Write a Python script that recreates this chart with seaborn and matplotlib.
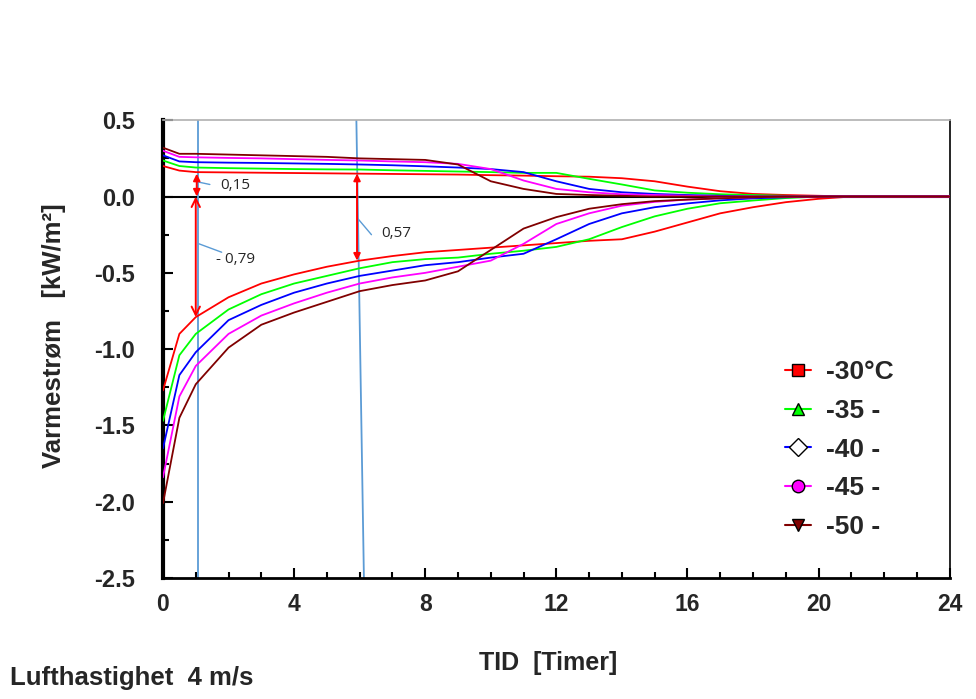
import numpy as np
import pandas as pd
import seaborn as sns
import matplotlib
matplotlib.use("Agg")
import matplotlib.pyplot as plt
from matplotlib.lines import Line2D
from matplotlib.ticker import MultipleLocator

# time axis [hours]
hours = [0, 0.5, 1, 2, 3, 4, 5, 6, 7, 8, 9, 10, 11, 12, 13, 14, 15, 16,
         17, 18, 19, 20, 21, 22, 23, 24]

temps = ['-30°C', '-35 -', '-40 -', '-45 -', '-50 -']
colors = ['#ff0000', '#00ff00', '#0000ff', '#ff00ff', '#800000']
markers = ['s', '^', 'D', 'o', 'v']
marker_fill = ['#ff0000', '#00ff00', '#ffffff', '#ff00ff', '#800000']

# upper branch (positive heat flow)
up_30 = [0.20, 0.17, 0.16, 0.158, 0.156, 0.154, 0.152, 0.15, 0.148, 0.146, 0.144, 0.14, 0.137,
         0.133, 0.13, 0.12, 0.10, 0.065, 0.035, 0.017, 0.01, 0.005, 0, 0, 0, 0]
up_35 = [0.236, 0.20, 0.19, 0.186, 0.183, 0.18, 0.178, 0.177, 0.172, 0.168, 0.164, 0.16, 0.155,
         0.155, 0.116, 0.079, 0.04, 0.025, 0.015, 0.01, 0.005, 0, 0, 0, 0, 0]
up_40 = [0.27, 0.23, 0.225, 0.222, 0.22, 0.217, 0.214, 0.21, 0.205, 0.198, 0.19, 0.18, 0.16,
         0.10, 0.05, 0.028, 0.017, 0.01, 0.005, 0, 0, 0, 0, 0, 0, 0]
up_45 = [0.30, 0.26, 0.257, 0.253, 0.25, 0.245, 0.24, 0.236, 0.23, 0.225, 0.214, 0.18, 0.105,
         0.05, 0.028, 0.015, 0.01, 0.005, 0, 0, 0, 0, 0, 0, 0, 0]
up_50 = [0.32, 0.28, 0.28, 0.275, 0.27, 0.265, 0.26, 0.25, 0.245, 0.24, 0.21, 0.10, 0.05,
         0.017, 0.01, 0.005, 0, 0, 0, 0, 0, 0, 0, 0, 0, 0]

# lower branch (negative heat flow)
low_30 = [-1.27, -0.90, -0.79, -0.66, -0.57, -0.51, -0.46, -0.42, -0.39, -0.365, -0.35, -0.335,
          -0.32, -0.305, -0.29, -0.28, -0.23, -0.17, -0.11, -0.07, -0.037, -0.015, 0, 0, 0, 0]
low_35 = [-1.47, -1.04, -0.90, -0.74, -0.64, -0.57, -0.52, -0.47, -0.43, -0.41, -0.40, -0.375,
          -0.355, -0.33, -0.28, -0.20, -0.13, -0.08, -0.044, -0.026, -0.01, 0, 0, 0, 0, 0]
low_40 = [-1.65, -1.17, -1.02, -0.81, -0.71, -0.63, -0.57, -0.52, -0.485, -0.45, -0.43, -0.40,
          -0.375, -0.28, -0.18, -0.11, -0.07, -0.045, -0.025, -0.012, -0.005, 0, 0, 0, 0, 0]
low_45 = [-1.84, -1.31, -1.11, -0.90, -0.78, -0.70, -0.63, -0.57, -0.53, -0.50, -0.46, -0.42,
          -0.31, -0.18, -0.11, -0.06, -0.035, -0.02, -0.01, -0.005, 0, 0, 0, 0, 0, 0]
low_50 = [-2.01, -1.45, -1.23, -0.99, -0.84, -0.76, -0.69, -0.62, -0.58, -0.55, -0.49, -0.35,
          -0.21, -0.135, -0.08, -0.05, -0.03, -0.02, -0.012, -0.005, 0, 0, 0, 0, 0, 0]

upper = [up_30, up_35, up_40, up_45, up_50]
lower = [low_30, low_35, low_40, low_45, low_50]

frames = []
for t, u, l in zip(temps, upper, lower):
    frames.append(pd.DataFrame({'hour': hours, 'flow': u, 'temp': t, 'branch': 'up'}))
    frames.append(pd.DataFrame({'hour': hours, 'flow': l, 'temp': t, 'branch': 'low'}))
df = pd.concat(frames, ignore_index=True)

sns.set_style('ticks')
plt.rcParams['font.family'] = ['Liberation Sans', 'DejaVu Sans']
narrow = ['Liberation Sans Narrow', 'Liberation Sans']
note_font = ['Open Sans', 'DejaVu Sans']

fig = plt.figure(figsize=(9.76, 6.99), dpi=100)
ax = fig.add_axes([0.167, 0.173, 0.806, 0.655])

ax.axhline(0, color='black', lw=1.5, zorder=1)

sns.lineplot(data=df, x='hour', y='flow', hue='temp', units='branch', estimator=None,
             palette=colors, hue_order=temps, lw=1.3, legend=False, ax=ax, zorder=3)

ax.set_xlim(0, 24)
ax.set_ylim(-2.5, 0.5)
ax.xaxis.set_major_locator(MultipleLocator(4))
ax.xaxis.set_minor_locator(MultipleLocator(1))
ax.yaxis.set_major_locator(MultipleLocator(0.5))
ax.yaxis.set_minor_locator(MultipleLocator(0.25))
ax.tick_params(which='major', direction='in', length=7, width=1.5, color='black')
ax.tick_params(which='minor', direction='in', length=4, width=1.5, color='black')
ax.tick_params(axis='x', which='major', pad=11)
ax.tick_params(axis='y', which='major', pad=20)
ax.set_yticks([0.5, 0.0, -0.5, -1.0, -1.5, -2.0, -2.5])
ax.set_yticklabels(['0.5', '0.0', '-0.5', '-1.0', '-1.5', '-2.0', '-2.5'],
                   fontsize=17, fontweight='bold')
ax.set_xticks([0, 4, 8, 12, 16, 20, 24])
ax.set_xticklabels(['0', '4', '8', '12', '16', '20', '24'], fontsize=16.5,
                   fontweight='bold', family=narrow)

ax.spines['left'].set_linewidth(3)
ax.spines['bottom'].set_linewidth(2)
ax.spines['right'].set_linewidth(1.2)
ax.spines['top'].set_linewidth(1.2)
ax.spines['top'].set_color('#b0b0b0')
for s in ['left', 'bottom', 'right']:
    ax.spines[s].set_color('black')

ax.set_xlabel('TID  [Timer]', fontsize=18, fontweight='bold', family=narrow)
ax.xaxis.set_label_coords(0.49, (578 - 651) / 458)
ax.set_ylabel('Varmestrøm   [kW/m²]', fontsize=18.5, fontweight='bold')
ax.yaxis.set_label_coords(-0.123, 0.53)

# reference lines and dimension arrows
guide = '#5b9bd5'
ax.plot([1.07, 1.07], [0.5, -2.5], color=guide, lw=1.3, zorder=2)
ax.plot([5.9, 6.13], [0.5, -2.5], color=guide, lw=1.3, zorder=2)

red_filled = dict(arrowstyle='<|-|>', color='red', lw=1.4, shrinkA=0, shrinkB=0,
                  mutation_scale=10)
red_open = dict(arrowstyle='<->', color='red', lw=1.4, shrinkA=0, shrinkB=0,
                mutation_scale=15)
ax.annotate('', xy=(1.03, 0.0), xytext=(1.03, 0.15), arrowprops=red_filled, zorder=4)
ax.annotate('', xy=(1.0, -0.79), xytext=(1.0, 0.0), arrowprops=red_open, zorder=4)
ax.annotate('', xy=(5.92, -0.42), xytext=(5.92, 0.15), arrowprops=red_filled, zorder=4)

ax.plot([1.1, 1.43], [0.094, 0.079], color=guide, lw=1)
ax.plot([1.1, 1.79], [-0.31, -0.365], color=guide, lw=1)
ax.plot([5.95, 6.36], [-0.146, -0.25], color=guide, lw=1)
ax.text(1.74, 0.075, '0,15', fontsize=11, family=note_font, va='center')
ax.text(1.63, -0.41, '- 0,79', fontsize=11, family=note_font, va='center')
ax.text(6.67, -0.24, '0,57', fontsize=11, family=note_font, va='center')

handles = [Line2D([], [], color=c, lw=1.5, marker=m, markersize=9,
                  markerfacecolor=f, markeredgecolor='black', markeredgewidth=1)
           for c, m, f in zip(colors, markers, marker_fill)]
fig.legend(handles, temps, loc='upper left', bbox_to_anchor=(785 / 976, 1 - 360 / 699),
           frameon=False, handlelength=1.0, handletextpad=0.55, labelspacing=0.56,
           borderpad=0, borderaxespad=0,
           prop={'size': 19, 'weight': 'bold'})

fig.text(10 / 976, 1 - 678 / 699, 'Lufthastighet  4 m/s', fontsize=18.5, fontweight='bold',
         family=narrow, va='center', ha='left')

fig.savefig('out.png', dpi=100)
